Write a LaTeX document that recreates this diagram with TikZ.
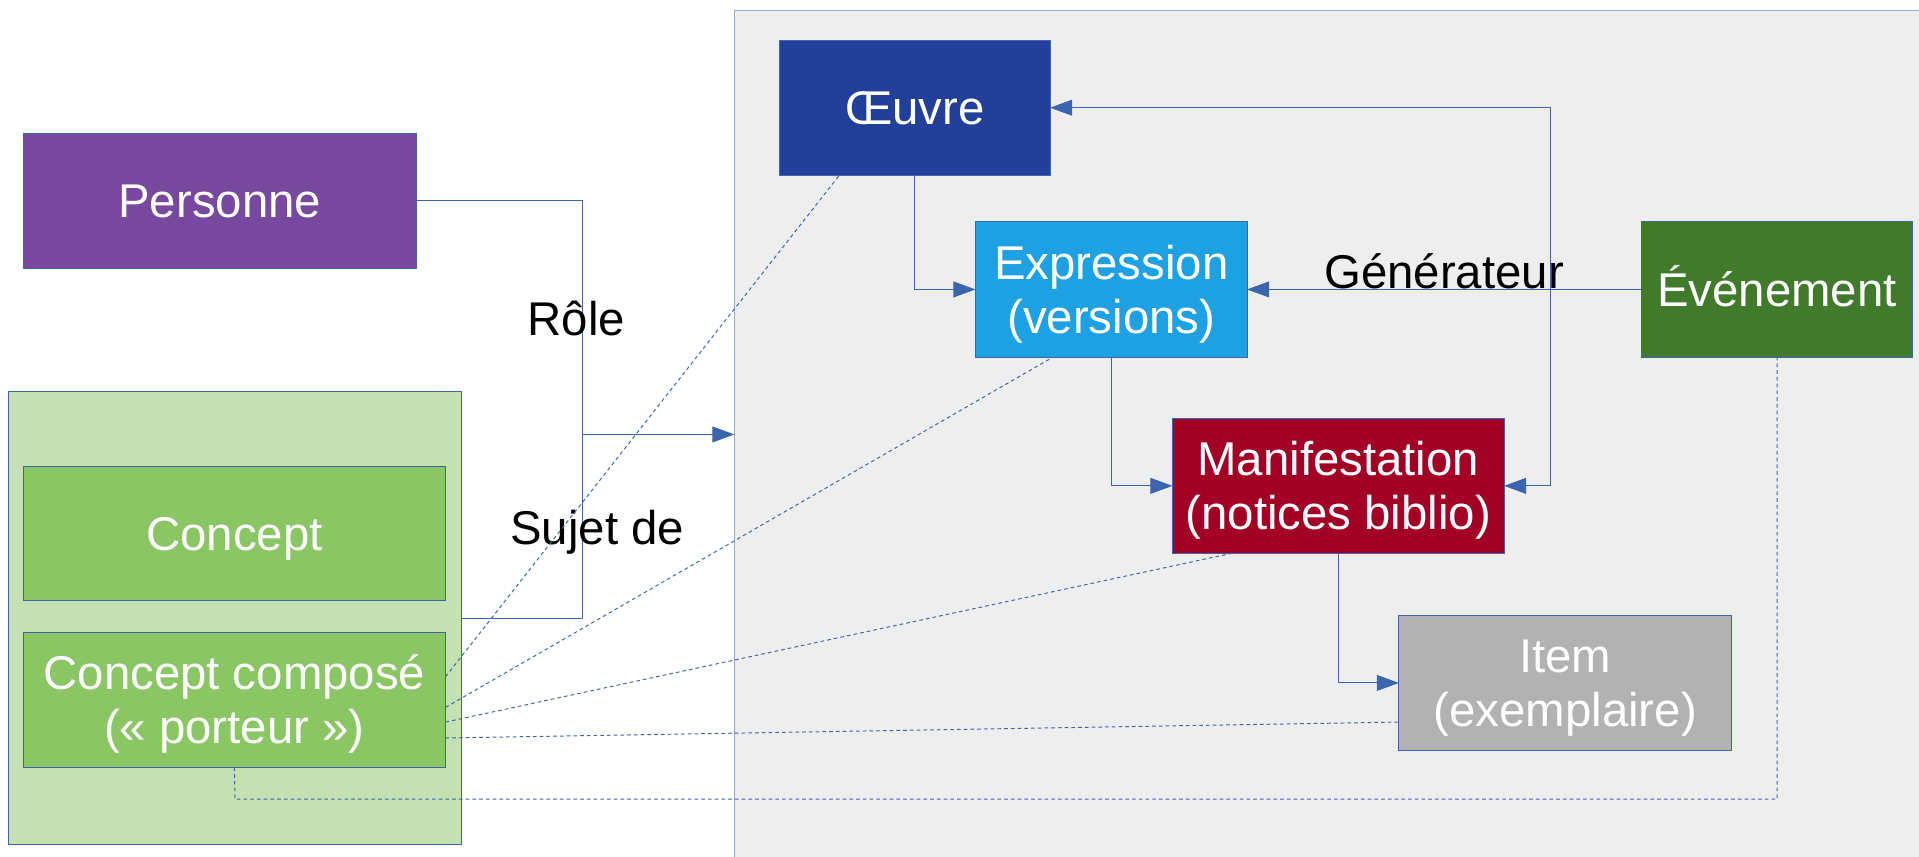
\documentclass[tikz,border=0pt]{standalone}
\usepackage{fontspec}
\setmainfont{Liberation Sans}
\usetikzlibrary{arrows.meta}
\definecolor{bleu}{HTML}{3B66AD}
\definecolor{bleuclair}{HTML}{8EA9D6}
\definecolor{fondgris}{HTML}{EEEEEE}
\definecolor{violet}{HTML}{77489D}
\definecolor{vertpale}{HTML}{C5E0B2}
\definecolor{vertmoyen}{HTML}{8BC664}
\definecolor{vertfonce}{HTML}{417A2A}
\definecolor{bleunuit}{HTML}{224099}
\definecolor{bleuciel}{HTML}{1DA1E2}
\definecolor{bordeaux}{HTML}{A20025}
\definecolor{grisitem}{HTML}{B2B2B2}

\begin{document}
\begin{tikzpicture}[x=1pt,y=-1pt,
   boite/.style={draw=bleu,line width=0.8pt,text=white,inner sep=0pt,outer sep=0pt,
     align=center,text height=27.5pt,text depth=0pt,font=\fontsize{38.7}{44}\selectfont},
   deux/.style={text height=71.5pt},
   lien/.style={draw=bleu,line width=0.8pt},
   fleche/.style={lien,-{Triangle[length=18pt,width=13pt]}},
   pointille/.style={lien,dash pattern=on 3pt off 2.5pt},
   etiq/.style={font=\fontsize{38.7}{44}\selectfont,inner sep=0pt}]
   \useasboundingbox (0,0) rectangle (1568,700);
   \node[draw=bleuclair,fill=fondgris,line width=0.8pt,anchor=north west,inner sep=0pt,
     minimum width=1000pt,minimum height=720pt] (zone) at (600,8) {};
   \node[boite,fill=violet,minimum width=321pt,minimum height=110pt] (pers) at (179.5,164) {Personne};
   \node[draw=bleu,fill=vertpale,line width=0.8pt,inner sep=0pt,outer sep=0pt,
     minimum width=370pt,minimum height=370pt] (cadre) at (192,505) {};
   \node[boite,fill=vertmoyen,minimum width=345pt,minimum height=110pt] (concept) at (191.5,436) {Concept};
   \node[boite,deux,fill=vertmoyen,minimum width=345pt,minimum height=110pt] (compose) at (191.5,572)
     {Concept composé\\(« porteur »)};
   \node[boite,fill=bleunuit,minimum width=221pt,minimum height=110pt] (oeuvre) at (747.5,88) {Œuvre};
   \node[boite,deux,fill=bleuciel,minimum width=222pt,minimum height=111pt] (expr) at (908,236.5)
     {Expression\\(versions)};
   \node[boite,fill=vertfonce,minimum width=222pt,minimum height=111pt] (evt) at (1452,236.5) {Événement};
   \node[boite,deux,fill=bordeaux,minimum width=271pt,minimum height=110pt] (manif) at (1093.5,397)
     {Manifestation\\(notices biblio)};
   \node[boite,deux,fill=grisitem,minimum width=272pt,minimum height=110pt] (item) at (1279,558)
     {Item\\(exemplaire)};
   \coordinate (coude) at (476,505);
   \coordinate (jonc) at (476,355);
   \coordinate (bif) at (1267,236.5);
   \coordinate (bas) at (192,653);
   \draw[lien] (pers.east) -| (coude) -- (cadre.east);
   \draw[fleche] (jonc) -- (zone.west |- jonc);
   \node[etiq,anchor=base] (role) at (471,274) {Rôle};
   \node[etiq,anchor=base] (sujet) at (488,445) {Sujet de};
   \draw[fleche] (oeuvre.south) |- (expr.west);
   \draw[fleche] (expr.south) |- (manif.west);
   \draw[fleche] (manif.south) |- (item.west);
   \draw[fleche] (evt.west) -- (expr.east);
   \draw[fleche] (bif) |- (oeuvre.east);
   \draw[fleche] (bif) |- (manif.east);
   \node[etiq,anchor=base] (gen) at (1180,236) {Générateur};
   \draw[pointille] ([yshift=19pt]compose.east) -- ([xshift=-61.5pt]oeuvre.south);
   \draw[pointille] ([yshift=-6pt]compose.east) -- ([xshift=-48pt]expr.south);
   \draw[pointille] ([yshift=-18pt]compose.east) -- ([xshift=-86.5pt]manif.south);
   \draw[pointille] ([yshift=-31pt]compose.east) -- ([yshift=-32pt]item.west);
   \draw[pointille] (compose.south) -- (bas) -| (evt.south);
\end{tikzpicture}
\end{document}
